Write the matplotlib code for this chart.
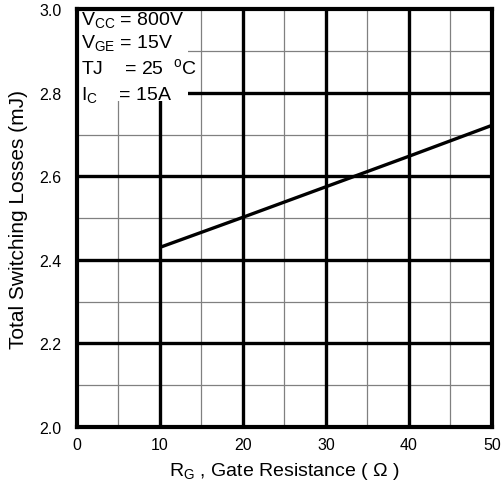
import matplotlib
matplotlib.use("Agg")
import matplotlib.pyplot as plt
from matplotlib.patches import Rectangle

plt.rcParams['font.family'] = ['Liberation Sans', 'DejaVu Sans']
plt.rcParams['mathtext.fontset'] = 'custom'
plt.rcParams['mathtext.rm'] = 'Liberation Sans'

rg = [10, 20, 30, 40, 50]
losses = [2.43, 2.502, 2.575, 2.648, 2.722]
xticks = [0, 10, 20, 30, 40, 50]
yticks = [2.0, 2.2, 2.4, 2.6, 2.8, 3.0]
xminor = [5, 15, 25, 35, 45]
yminor = [2.1, 2.3, 2.5, 2.7, 2.9]
notes = ["V$_\\mathregular{CC}$ = 800V", "V$_\\mathregular{GE}$ = 15V",
         "TJ    = 25  $^\\mathregular{o}$C", "I$_\\mathregular{C}$    = 15A"]

fig = plt.figure(figsize=(5.03, 4.85), dpi=100)
ax = fig.add_axes([0.153, 0.1175, 0.825, 0.8615])
ax.set_xlim(0, 50)
ax.set_ylim(2.0, 3.0)

for x in xminor:
    ax.axvline(x, color='#808080', lw=0.9, zorder=1)
for y in yminor:
    ax.axhline(y, color='#808080', lw=0.9, zorder=1)
for x in xticks[1:-1]:
    ax.axvline(x, color='black', lw=2.4, zorder=2)
for y in yticks[1:-1]:
    ax.axhline(y, color='black', lw=2.4, zorder=2)

ax.add_patch(Rectangle((0, 2.78), 13.4, 0.22, facecolor='white', edgecolor='none', zorder=3))

ax.plot(rg, losses, color='black', lw=2.4, zorder=4, solid_capstyle='butt')

for s in ax.spines.values():
    s.set_linewidth(3)
    s.set_zorder(5)

ax.set_xticks(xticks)
ax.set_yticks(yticks)
ax.set_xticklabels([str(v) for v in xticks])
ax.set_yticklabels([f"{v:.1f}" for v in yticks])
ax.tick_params(axis='x', length=0, labelsize=11.5, pad=7)
ax.tick_params(axis='y', length=0, labelsize=11.5, pad=11)

ax.set_xlabel("R$_\\mathregular{G}$ , Gate Resistance ( Ω )", fontsize=14, labelpad=6)
ax.set_ylabel("Total Switching Losses (mJ)", fontsize=15, labelpad=8)

ypix = [21, 44, 68, 96]
for t, yp in zip(notes, ypix):
    fy = 3.0 - (yp - 10) / 418.0
    ax.text(0.5, fy, t, fontsize=14, va='center', ha='left', zorder=6)

fig.savefig("out.png", dpi=100)
